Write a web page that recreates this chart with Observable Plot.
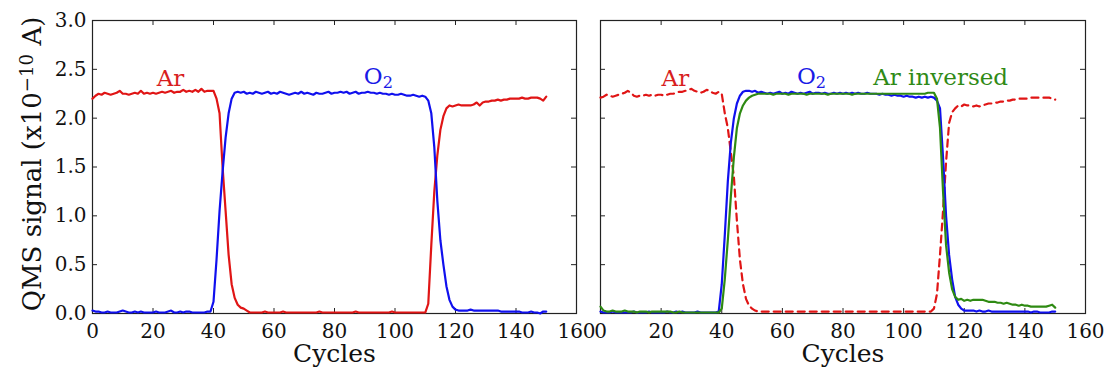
<!DOCTYPE html>
<html>
<head>
<meta charset="utf-8">
<script src="https://cdn.jsdelivr.net/npm/d3@7"></script>
<script src="https://cdn.jsdelivr.net/npm/@observablehq/plot@0.6"></script>
<style>
  html, body { margin: 0; padding: 0; background: white; }
  #wrap { position: relative; width: 1105px; height: 370px; overflow: hidden; }
  #wrap svg { position: absolute; top: 0; }
</style>
</head>
<body>
<div id="wrap"></div>
<script>
// Cycles 0..150
const cycles = d3.range(0, 151);

// Left panel: Ar signal
const arLeft = [
  2.20, 2.23, 2.25, 2.24, 2.26, 2.25, 2.24, 2.25, 2.26, 2.28,
  2.25, 2.25, 2.24, 2.25, 2.26, 2.25, 2.28, 2.25, 2.26, 2.25,
  2.26, 2.25, 2.26, 2.27, 2.26, 2.27, 2.28, 2.26, 2.27, 2.27,
  2.29, 2.27, 2.28, 2.27, 2.29, 2.27, 2.30, 2.27, 2.28, 2.28,
  2.28, 2.20, 2.05, 1.50, 1.05, 0.60, 0.30, 0.16, 0.09, 0.06,
  0.05, 0.03, 0.01, 0.01, 0.01, 0.01, 0.01, 0.02, 0.01, 0.01,
  0.01, 0.01, 0.01, 0.02, 0.01, 0.01, 0.01, 0.01, 0.01, 0.01,
  0.01, 0.01, 0.01, 0.01, 0.01, 0.02, 0.01, 0.01, 0.01, 0.01,
  0.01, 0.01, 0.01, 0.01, 0.01, 0.01, 0.01, 0.02, 0.01, 0.01,
  0.01, 0.01, 0.01, 0.01, 0.01, 0.01, 0.01, 0.01, 0.01, 0.02,
  0.01, 0.01, 0.01, 0.01, 0.01, 0.01, 0.01, 0.01, 0.01, 0.01,
  0.01, 0.10, 0.70, 1.25, 1.62, 1.88, 2.02, 2.10, 2.13, 2.12,
  2.13, 2.14, 2.13, 2.13, 2.13, 2.13, 2.14, 2.16, 2.13, 2.16,
  2.17, 2.17, 2.18, 2.18, 2.19, 2.18, 2.19, 2.19, 2.20, 2.20,
  2.20, 2.20, 2.21, 2.20, 2.20, 2.21, 2.21, 2.21, 2.20, 2.18,
  2.22
];

// Left panel: O2 signal
const o2Left = [
  0.03, 0.02, 0.02, 0.01, 0.01, 0.02, 0.01, 0.01, 0.01, 0.02,
  0.03, 0.02, 0.01, 0.01, 0.02, 0.01, 0.02, 0.01, 0.01, 0.01,
  0.01, 0.02, 0.01, 0.01, 0.01, 0.02, 0.03, 0.01, 0.01, 0.02,
  0.01, 0.02, 0.02, 0.01, 0.01, 0.01, 0.01, 0.01, 0.02, 0.02,
  0.12, 0.55, 1.05, 1.45, 1.80, 2.05, 2.20, 2.26, 2.27, 2.26,
  2.27, 2.25, 2.26, 2.25, 2.27, 2.26, 2.25, 2.26, 2.27, 2.25,
  2.26, 2.25, 2.27, 2.26, 2.25, 2.24, 2.25, 2.26, 2.25, 2.27,
  2.25, 2.26, 2.25, 2.24, 2.26, 2.25, 2.25, 2.26, 2.27, 2.25,
  2.26, 2.26, 2.27, 2.26, 2.27, 2.25, 2.26, 2.27, 2.25, 2.26,
  2.26, 2.27, 2.26, 2.26, 2.25, 2.26, 2.25, 2.25, 2.24, 2.25,
  2.24, 2.24, 2.25, 2.24, 2.23, 2.23, 2.24, 2.23, 2.22, 2.23,
  2.22, 2.18, 2.05, 1.70, 1.15, 0.75, 0.50, 0.28, 0.14, 0.07,
  0.04, 0.03, 0.03, 0.03, 0.03, 0.04, 0.03, 0.03, 0.03, 0.03,
  0.03, 0.03, 0.03, 0.03, 0.03, 0.02, 0.02, 0.02, 0.02, 0.02,
  0.02, 0.02, 0.01, 0.01, 0.01, 0.02, 0.01, 0.01, 0.00, 0.02,
  0.02
];

// Right panel: Ar signal (dashed)
const arRight = [
  2.21, 2.22, 2.24, 2.23, 2.22, 2.23, 2.24, 2.25, 2.26, 2.28,
  2.26, 2.23, 2.22, 2.23, 2.23, 2.24, 2.23, 2.24, 2.23, 2.24,
  2.24, 2.23, 2.24, 2.25, 2.25, 2.26, 2.27, 2.27, 2.28, 2.29,
  2.30, 2.28, 2.27, 2.26, 2.27, 2.29, 2.28, 2.26, 2.25, 2.27,
  2.25, 2.05, 1.90, 1.65, 1.40, 0.95, 0.55, 0.30, 0.15, 0.08,
  0.05, 0.03, 0.02, 0.02, 0.02, 0.02, 0.02, 0.02, 0.02, 0.02,
  0.02, 0.02, 0.02, 0.02, 0.02, 0.02, 0.02, 0.02, 0.02, 0.02,
  0.02, 0.02, 0.02, 0.02, 0.02, 0.02, 0.02, 0.02, 0.02, 0.02,
  0.02, 0.02, 0.02, 0.02, 0.02, 0.02, 0.02, 0.02, 0.02, 0.02,
  0.02, 0.02, 0.02, 0.02, 0.02, 0.02, 0.02, 0.02, 0.02, 0.02,
  0.02, 0.02, 0.02, 0.02, 0.02, 0.02, 0.02, 0.02, 0.02, 0.02,
  0.05, 0.20, 0.60, 1.05, 1.55, 1.95, 2.06, 2.10, 2.13, 2.12,
  2.14, 2.13, 2.13, 2.12, 2.13, 2.12, 2.13, 2.14, 2.15, 2.15,
  2.16, 2.16, 2.17, 2.17, 2.18, 2.18, 2.19, 2.19, 2.20, 2.20,
  2.20, 2.20, 2.21, 2.21, 2.21, 2.21, 2.21, 2.21, 2.21, 2.20,
  2.19
];

// Right panel: O2 signal
const o2Right = [
  0.02, 0.01, 0.01, 0.01, 0.02, 0.01, 0.01, 0.01, 0.01, 0.01,
  0.01, 0.02, 0.01, 0.01, 0.01, 0.01, 0.02, 0.01, 0.01, 0.01,
  0.01, 0.01, 0.02, 0.01, 0.01, 0.02, 0.01, 0.02, 0.01, 0.01,
  0.01, 0.01, 0.02, 0.01, 0.01, 0.01, 0.01, 0.01, 0.01, 0.02,
  0.30, 0.80, 1.35, 1.75, 2.00, 2.15, 2.23, 2.27, 2.28, 2.28,
  2.27, 2.28, 2.26, 2.27, 2.26, 2.25, 2.26, 2.25, 2.26, 2.27,
  2.25, 2.26, 2.25, 2.27, 2.26, 2.25, 2.26, 2.25, 2.26, 2.27,
  2.25, 2.26, 2.26, 2.25, 2.26, 2.25, 2.25, 2.26, 2.25, 2.26,
  2.25, 2.26, 2.25, 2.26, 2.25, 2.26, 2.25, 2.25, 2.26, 2.25,
  2.25, 2.25, 2.24, 2.25, 2.24, 2.24, 2.23, 2.24, 2.23, 2.23,
  2.22, 2.23, 2.22, 2.22, 2.21, 2.22, 2.21, 2.22, 2.21, 2.22,
  2.21, 2.18, 2.10, 1.60, 1.00, 0.60, 0.35, 0.17, 0.09, 0.05,
  0.03, 0.03, 0.03, 0.03, 0.02, 0.03, 0.02, 0.02, 0.03, 0.02,
  0.02, 0.02, 0.02, 0.02, 0.02, 0.02, 0.02, 0.02, 0.02, 0.02,
  0.02, 0.02, 0.01, 0.02, 0.02, 0.01, 0.01, 0.01, 0.01, 0.02,
  0.02
];

// Right panel: Ar inversed
const arInversed = [
  0.07, 0.03, 0.02, 0.02, 0.03, 0.02, 0.02, 0.02, 0.03, 0.02,
  0.02, 0.02, 0.01, 0.02, 0.02, 0.02, 0.01, 0.02, 0.02, 0.02,
  0.02, 0.02, 0.02, 0.02, 0.01, 0.01, 0.02, 0.01, 0.01, 0.01,
  0.01, 0.01, 0.01, 0.01, 0.01, 0.01, 0.01, 0.01, 0.01, 0.01,
  0.05, 0.35, 0.75, 1.20, 1.60, 1.90, 2.05, 2.13, 2.18, 2.21,
  2.23, 2.24, 2.25, 2.25, 2.25, 2.25, 2.25, 2.24, 2.25, 2.25,
  2.25, 2.25, 2.24, 2.25, 2.25, 2.25, 2.25, 2.25, 2.24, 2.25,
  2.25, 2.25, 2.25, 2.25, 2.25, 2.24, 2.25, 2.25, 2.25, 2.25,
  2.25, 2.25, 2.25, 2.24, 2.25, 2.25, 2.25, 2.25, 2.25, 2.25,
  2.25, 2.25, 2.25, 2.25, 2.25, 2.25, 2.25, 2.25, 2.25, 2.25,
  2.25, 2.25, 2.25, 2.25, 2.25, 2.25, 2.25, 2.25, 2.26, 2.26,
  2.26, 2.20, 1.90, 1.25, 0.70, 0.42, 0.25, 0.17, 0.14, 0.15,
  0.13, 0.14, 0.13, 0.14, 0.14, 0.14, 0.14, 0.13, 0.12, 0.12,
  0.12, 0.11, 0.11, 0.10, 0.11, 0.10, 0.09, 0.09, 0.08, 0.09,
  0.08, 0.08, 0.07, 0.07, 0.07, 0.07, 0.07, 0.07, 0.08, 0.09,
  0.06
];

const xTicks = [0, 20, 40, 60, 80, 100, 120, 140, 160];
const yTicks = [0.0, 0.5, 1.0, 1.5, 2.0, 2.5, 3.0];

const labelsLeft = [
  {x: 25.8, y: 2.40, text: "Ar", color: "#d81e1e"},
  {x: 94.5, y: 2.43, text: "O2", color: "#1a1ae6"}
];
const labelsRight = [
  {x: 24.7, y: 2.40, text: "Ar", color: "#d81e1e"},
  {x: 69.6, y: 2.43, text: "O2", color: "#1a1ae6"},
  {x: 112.2, y: 2.42, text: "Ar inversed", color: "#2f8a16"}
];

const RED = "#e01515", BLUE = "#1010ee", GREEN = "#2e8a12";
const FONT = "'DejaVu Serif', serif";
const H = 370, MT = 20, MB = 57;
const innerH = H - MT - MB;

function rows(arr) { return cycles.map((c, i) => ({c, v: arr[i]})); }

function panel({width, ml, mr, series, labels, showY}) {
  const innerW = width - ml - mr;
  const marks = [
    Plot.frame({stroke: "#222", strokeWidth: 1.2}),
    Plot.tickX(xTicks, {x: d => d, insetTop: innerH - 5, stroke: "#222"}),
    Plot.tickX(xTicks, {x: d => d, insetBottom: innerH - 5, stroke: "#222"}),
    Plot.tickY(yTicks, {y: d => d, insetRight: innerW - 5, stroke: "#222"}),
    Plot.tickY(yTicks, {y: d => d, insetLeft: innerW - 5, stroke: "#222"}),
    Plot.axisX({ticks: xTicks, tickSize: 0, tickPadding: 10, fontSize: 20, fontFamily: FONT, fill: "#111", tickFormat: d => String(d), label: null}),
    Plot.text(["Cycles"], {frameAnchor: "bottom", dy: 48, fontSize: 25, fontFamily: FONT, fill: "#111"})
  ];
  if (showY) {
    marks.push(Plot.axisY({ticks: yTicks, tickSize: 0, tickPadding: 6, fontSize: 20, fontFamily: FONT, fill: "#111", tickFormat: d3.format(".1f"), label: null}));
    marks.push(Plot.text(["YLABEL"], {frameAnchor: "left", textAnchor: "middle", dx: -60, dy: -3, rotate: -90, fontSize: 26, fontFamily: FONT, fill: "#111"}));
  }
  for (const s of series) {
    marks.push(Plot.line(rows(s.data), {x: "c", y: "v", stroke: s.color, strokeWidth: 2.2, strokeDasharray: s.dash}));
  }
  marks.push(Plot.text(labels, {x: "x", y: "y", text: "text", fill: "color", fontSize: 23, fontFamily: FONT}));
  const svg = Plot.plot({
    width, height: H,
    marginLeft: ml, marginRight: mr, marginTop: MT, marginBottom: MB,
    x: {domain: [0, 160], axis: null},
    y: {domain: [0, 3], axis: null},
    style: {fontFamily: FONT, background: "transparent", overflow: "visible", color: "#111"},
    marks
  });
  // rich text: subscripts / superscripts
  d3.select(svg).selectAll("text").each(function() {
    const t = d3.select(this);
    const s = this.textContent;
    if (s === "O2") {
      t.text("");
      t.append("tspan").text("O");
      t.append("tspan").attr("dy", "0.3em").attr("font-size", "70%").text("2");
    } else if (s === "YLABEL") {
      t.text("");
      t.append("tspan").text("QMS signal (x10");
      t.append("tspan").attr("dy", "-0.45em").attr("font-size", "70%").text("\u221210");
      t.append("tspan").attr("dy", "0.32em").text(" A)");
    }
  });
  return svg;
}

const left = panel({
  width: 600, ml: 92, mr: 24, showY: true, labels: labelsLeft,
  series: [
    {data: arLeft, color: RED},
    {data: o2Left, color: BLUE}
  ]
});
const right = panel({
  width: 545, ml: 40, mr: 20, showY: false, labels: labelsRight,
  series: [
    {data: arRight, color: RED, dash: "7,5"},
    {data: o2Right, color: BLUE},
    {data: arInversed, color: GREEN}
  ]
});
left.style.left = "0px";
right.style.left = "560px";
const wrap = document.getElementById("wrap");
wrap.appendChild(left);
wrap.appendChild(right);
</script>
</body>
</html>
